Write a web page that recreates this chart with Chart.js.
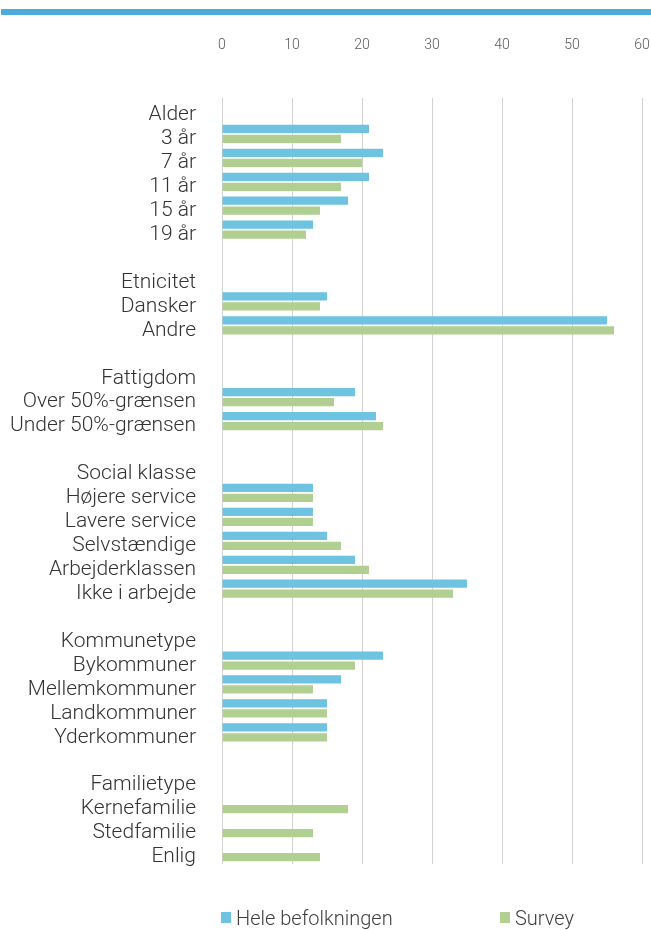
<!DOCTYPE html>
<html>
<head>
<meta charset="utf-8">
<script src="https://cdn.jsdelivr.net/npm/chart.js@4.4.1/dist/chart.umd.min.js"></script>
<style>
  html, body { margin: 0; padding: 0; background: #fff; }
  canvas { display: block; }
</style>
</head>
<body>
<canvas id="groupChart" width="651" height="930"></canvas>
<script>
// categories, blank strings are spacer rows between groups
const categories = [
    'Alder', '3 år', '7 år', '11 år', '15 år', '19 år', '',
    'Etnicitet', 'Dansker', 'Andre', '',
    'Fattigdom', 'Over 50%-grænsen', 'Under 50%-grænsen', '',
    'Social klasse', 'Højere service', 'Lavere service', 'Selvstændige', 'Arbejderklassen', 'Ikke i arbejde', '',
    'Kommunetype', 'Bykommuner', 'Mellemkommuner', 'Landkommuner', 'Yderkommuner', '',
    'Familietype', 'Kernefamilie', 'Stedfamilie', 'Enlig'
];

const heleBefolkningen = [
    null, 21, 23, 21, 18, 13, null,
    null, 15, 55, null,
    null, 19, 22, null,
    null, 13, 13, 15, 19, 35, null,
    null, 23, 17, 15, 15, null,
    null, null, null, null
];

const survey = [
    null, 17, 20, 17, 14, 12, null,
    null, 14, 56, null,
    null, 16, 23, null,
    null, 13, 13, 17, 21, 33, null,
    null, 19, 13, 15, 15, null,
    null, 18, 13, 14
];

const xTicks = [0, 10, 20, 30, 40, 50, 60];

const FONT = 'Roboto, "DejaVu Sans", sans-serif';

// top rule + legend drawn by hand so the spacing matches
const decorPlugin = {
    id: 'decor',
    beforeDraw(chart) {
        const ctx = chart.ctx;
        ctx.save();
        ctx.fillStyle = '#4babda';
        ctx.fillRect(1, 9, chart.width - 1, 6);
        ctx.restore();
    },
    afterDraw(chart) {
        const ctx = chart.ctx;
        const left = chart.chartArea.left;
        const spots = [left - 1, left + 278];
        ctx.save();
        ctx.font = '300 20px ' + FONT;
        ctx.textBaseline = 'middle';
        ctx.textAlign = 'left';
        chart.data.datasets.forEach((ds, i) => {
            const x = spots[i];
            ctx.fillStyle = ds.backgroundColor;
            ctx.fillRect(x, 912, 10, 11);
            ctx.fillStyle = '#404040';
            ctx.fillText(ds.label, x + 15, 920);
        });
        ctx.restore();
    }
};

const ctx = document.getElementById('groupChart').getContext('2d');
new Chart(ctx, {
    type: 'bar',
    data: {
        labels: categories,
        datasets: [{
            label: 'Hele befolkningen',
            data: heleBefolkningen,
            backgroundColor: '#6ec3e1',
            categoryPercentage: 0.84,
            barPercentage: 0.82
        }, {
            label: 'Survey',
            data: survey,
            backgroundColor: '#b1cf91',
            categoryPercentage: 0.84,
            barPercentage: 0.82
        }]
    },
    options: {
        indexAxis: 'y',
        responsive: false,
        animation: false,
        layout: {
            padding: { top: 0, right: 9, bottom: 66, left: 0 }
        },
        plugins: {
            legend: { display: false },
            tooltip: { enabled: false }
        },
        scales: {
            x: {
                position: 'top',
                min: 0,
                max: 60,
                afterBuildTicks: (scale) => {
                    scale.ticks = xTicks.map(v => ({ value: v }));
                },
                afterFit: (scale) => { scale.height = 98; },
                grid: { color: '#d2d2d2', lineWidth: 1, drawTicks: false },
                border: { display: false },
                ticks: {
                    padding: 0,
                    color: '#5a5a5a',
                    // tall line box lifts the labels well above the plot
                    font: { family: FONT, size: 14, weight: 300, lineHeight: 7.43 }
                }
            },
            y: {
                afterFit: (scale) => { scale.width = 222; },
                grid: { display: false },
                border: { display: false },
                ticks: {
                    autoSkip: false,
                    padding: 18,
                    labelOffset: 5,
                    color: '#333333',
                    font: { family: FONT, size: 21, weight: 300 }
                }
            }
        }
    },
    plugins: [decorPlugin]
});
</script>
</body>
</html>
